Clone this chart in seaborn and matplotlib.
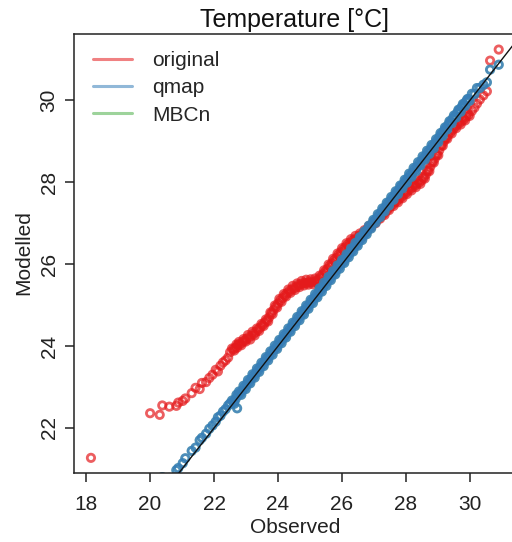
import matplotlib
matplotlib.use("Agg")
import matplotlib.pyplot as plt
import seaborn as sns
import pandas as pd
from matplotlib.lines import Line2D

# observed quantiles (x axis)
observed = [
    18.15, 20.00, 20.30, 20.38, 20.60, 20.82, 20.88, 21.02, 21.10, 21.30,
    21.42, 21.55, 21.62, 21.75, 21.85, 21.95, 22.05, 22.12, 22.20, 22.28,
    22.36, 22.44, 22.50,
    22.56, 22.63, 22.70, 22.72, 22.78, 22.85, 22.92, 22.99, 23.06, 23.13,
    23.20, 23.27, 23.34, 23.41, 23.48, 23.55, 23.62, 23.69, 23.76, 23.83,
    23.90, 23.97, 24.04, 24.11, 24.18, 24.25, 24.32, 24.39, 24.46, 24.53,
    24.60, 24.67, 24.74, 24.81, 24.88, 24.95, 25.02, 25.09, 25.16, 25.23,
    25.30, 25.37, 25.44, 25.51, 25.58, 25.65, 25.72, 25.79, 25.86, 25.93,
    26.00, 26.07, 26.14, 26.21, 26.28, 26.35, 26.42, 26.49, 26.56, 26.63,
    26.70, 26.77, 26.84, 26.91, 26.98, 27.05, 27.12, 27.19, 27.26, 27.33,
    27.40, 27.47, 27.54, 27.61, 27.68, 27.75, 27.82, 27.89, 27.96, 28.03,
    28.10, 28.17, 28.24, 28.31, 28.38, 28.45, 28.52, 28.59, 28.66, 28.73,
    28.80, 28.87, 28.94, 29.01, 29.08, 29.15, 29.22, 29.29, 29.36, 29.43,
    29.50, 29.57, 29.64, 29.71, 29.78, 29.85, 29.92, 29.99,
    30.06, 30.14, 30.22, 30.31, 30.42, 30.53, 30.63, 30.90,
]

# raw model quantiles
original_mod = [
    21.27, 22.36, 22.32, 22.55, 22.52, 22.54, 22.62, 22.66, 22.72, 22.85,
    22.98, 22.95, 23.10, 23.12, 23.22, 23.30, 23.42, 23.38, 23.52, 23.60,
    23.65, 23.72, 23.85,
    23.94, 23.89, 24.04, 23.96, 24.10, 24.02, 24.17, 24.11, 24.27, 24.16,
    24.35, 24.26, 24.43, 24.37, 24.54, 24.49, 24.65, 24.60, 24.82, 24.78,
    24.99, 24.94, 25.15, 25.08, 25.27, 25.21, 25.38, 25.30, 25.47, 25.37,
    25.53, 25.44, 25.59, 25.48, 25.62, 25.50, 25.63, 25.51, 25.65, 25.54,
    25.72, 25.66, 25.85, 25.79, 25.99, 25.93, 26.13, 26.06, 26.26, 26.20,
    26.39, 26.32, 26.51, 26.44, 26.61, 26.52, 26.69, 26.59, 26.75, 26.68,
    26.83, 26.79, 26.93, 26.90, 27.03, 27.00, 27.14, 27.11, 27.25, 27.20,
    27.37, 27.32, 27.49, 27.42, 27.58, 27.51, 27.68, 27.61, 27.78, 27.71,
    27.88, 27.80, 27.96, 27.88, 28.04, 27.96, 28.13, 28.09, 28.30, 28.27,
    28.50, 28.48, 28.69, 28.66, 28.90, 28.89, 29.09, 29.06, 29.25, 29.19,
    29.38, 29.32, 29.49, 29.41, 29.58, 29.51, 29.69, 29.62,
    29.74, 29.82, 29.92, 30.02, 30.12, 30.22, 30.97, 31.24,
]

# quantile mapped model quantiles
qmap_mod = [
    18.22, 20.10, 20.45, 20.80, 20.78, 20.97, 21.02, 21.14, 21.26, 21.44,
    21.52, 21.70, 21.76, 21.86, 21.98, 22.06, 22.15, 22.26, 22.30, 22.40,
    22.46, 22.55, 22.60,
    22.67, 22.59, 22.81, 22.48, 22.89, 22.81, 23.03, 22.95, 23.17, 23.09,
    23.31, 23.23, 23.45, 23.37, 23.59, 23.51, 23.73, 23.65, 23.87, 23.79,
    24.01, 23.93, 24.15, 24.07, 24.29, 24.21, 24.43, 24.35, 24.57, 24.49,
    24.71, 24.63, 24.85, 24.77, 24.99, 24.91, 25.13, 25.05, 25.27, 25.19,
    25.41, 25.33, 25.55, 25.47, 25.69, 25.61, 25.83, 25.75, 25.97, 25.89,
    26.10, 26.03, 26.24, 26.17, 26.38, 26.31, 26.52, 26.45, 26.66, 26.59,
    26.80, 26.73, 26.94, 26.87, 27.08, 27.01, 27.22, 27.15, 27.36, 27.29,
    27.50, 27.43, 27.64, 27.57, 27.78, 27.71, 27.92, 27.85, 28.06, 27.99,
    28.21, 28.13, 28.35, 28.27, 28.49, 28.41, 28.63, 28.55, 28.77, 28.69,
    28.91, 28.83, 29.05, 28.98, 29.20, 29.13, 29.34, 29.29, 29.49, 29.44,
    29.63, 29.58, 29.77, 29.72, 29.91, 29.86, 30.03, 29.99,
    30.16, 30.15, 30.30, 30.30, 30.38, 30.44, 30.75, 30.87,
]

# the dense middle holds many more quantiles than the lists above
observed_mid = [
    22.60, 22.67, 22.74, 22.81, 22.88, 22.95, 23.02, 23.09, 23.16, 23.23,
    23.30, 23.37, 23.44, 23.51, 23.58, 23.65, 23.72, 23.79, 23.86, 23.93,
    24.00, 24.07, 24.14, 24.21, 24.28, 24.35, 24.42, 24.49, 24.56, 24.63,
    24.70, 24.77, 24.84, 24.91, 24.98, 25.05, 25.12, 25.19, 25.26, 25.33,
    25.40, 25.47, 25.54, 25.61, 25.68, 25.75, 25.82, 25.89, 25.96, 26.03,
    26.10, 26.17, 26.24, 26.31, 26.38, 26.45, 26.52, 26.59, 26.66, 26.73,
    26.80, 26.87, 26.94, 27.01, 27.08, 27.15, 27.22, 27.29, 27.36, 27.43,
    27.50, 27.57, 27.64, 27.71, 27.78, 27.85, 27.92, 27.99, 28.06, 28.13,
    28.20, 28.27, 28.34, 28.41, 28.48, 28.55, 28.62, 28.69, 28.76, 28.83,
    28.90, 28.97, 29.04, 29.11, 29.18, 29.25, 29.32, 29.39, 29.46, 29.53,
    29.60, 29.67, 29.74, 29.81, 29.88, 29.95,
]
original_mid = [
    23.92, 23.96, 24.02, 24.05, 24.09, 24.13, 24.18, 24.21, 24.25, 24.30,
    24.34, 24.40, 24.45, 24.51, 24.57, 24.62, 24.70, 24.80, 24.88, 24.96,
    25.04, 25.11, 25.17, 25.23, 25.29, 25.33, 25.38, 25.41, 25.44, 25.48,
    25.51, 25.53, 25.54, 25.55, 25.56, 25.56, 25.57, 25.59, 25.62, 25.68,
    25.75, 25.81, 25.88, 25.95, 26.02, 26.09, 26.15, 26.22, 26.29, 26.35,
    26.41, 26.47, 26.52, 26.56, 26.60, 26.63, 26.67, 26.71, 26.75, 26.80,
    26.86, 26.91, 26.96, 27.01, 27.07, 27.12, 27.17, 27.22, 27.28, 27.34,
    27.40, 27.45, 27.50, 27.54, 27.59, 27.64, 27.69, 27.74, 27.79, 27.84,
    27.88, 27.92, 27.96, 28.00, 28.04, 28.11, 28.19, 28.28, 28.38, 28.49,
    28.58, 28.67, 28.78, 28.89, 28.99, 29.07, 29.15, 29.22, 29.28, 29.35,
    29.40, 29.45, 29.49, 29.54, 29.60, 29.65,
]
qmap_mid = [
    22.64, 22.70, 22.79, 22.85, 22.91, 22.99, 23.06, 23.12, 23.20, 23.27,
    23.33, 23.41, 23.48, 23.54, 23.62, 23.69, 23.75, 23.83, 23.90, 23.96,
    24.04, 24.11, 24.17, 24.25, 24.32, 24.38, 24.46, 24.53, 24.59, 24.67,
    24.74, 24.80, 24.88, 24.95, 25.01, 25.09, 25.16, 25.22, 25.30, 25.37,
    25.43, 25.51, 25.58, 25.64, 25.72, 25.79, 25.85, 25.93, 26.00, 26.06,
    26.13, 26.21, 26.27, 26.34, 26.42, 26.48, 26.55, 26.63, 26.69, 26.76,
    26.84, 26.90, 26.97, 27.05, 27.11, 27.18, 27.26, 27.32, 27.39, 27.47,
    27.53, 27.60, 27.68, 27.74, 27.81, 27.89, 27.95, 28.02, 28.10, 28.16,
    28.23, 28.31, 28.37, 28.44, 28.52, 28.58, 28.65, 28.73, 28.79, 28.87,
    28.94, 29.01, 29.10, 29.17, 29.25, 29.32, 29.40, 29.47, 29.55, 29.61,
    29.69, 29.76, 29.83, 29.90, 29.97, 30.03,
]

labels = ["original", "qmap", "MBCn"]
colors = ["#E41A1C", "#377EB8", "#4DAF4A"]
alphas = {"original": 0.7, "MBCn": 0.3, "qmap": 0.85}

df = pd.DataFrame({
    "obs": observed + observed_mid,
    "original": original_mod + original_mid,
    "qmap": qmap_mod + qmap_mid,
})
# MBCn ends up right underneath qmap in the figure
df["MBCn"] = df["qmap"]

sns.set_style("ticks")
plt.rcParams["font.family"] = ["Liberation Sans", "DejaVu Sans"]

fig = plt.figure(figsize=(5.12, 5.42), dpi=100)
ax = fig.add_axes([74 / 512, 1 - 473 / 542, 442 / 512, 439 / 542])

# draw order: original, MBCn, qmap (qmap hides MBCn)
for name in ["original", "MBCn", "qmap"]:
    col = colors[labels.index(name)]
    sns.scatterplot(data=df, x="obs", y=name, ax=ax, marker="o", s=28,
                    facecolor="none", edgecolor=col, linewidth=2.0,
                    alpha=alphas[name], legend=False, zorder=2)

ax.axline((20, 20), slope=1, color="#111111", lw=1.0, zorder=3)

ax.set_xlim(17.62, 31.44)
ax.set_ylim(20.9, 31.62)
ax.set_xticks([18, 20, 22, 24, 26, 28, 30])
ax.set_yticks([22, 24, 26, 28, 30])

for side in ["left", "bottom", "top", "right"]:
    ax.spines[side].set_visible(True)
    ax.spines[side].set_color("#222222")
    ax.spines[side].set_linewidth(1.1)

ax.tick_params(axis="both", length=6.5, width=1.1, color="#222222",
               labelsize=15, labelcolor="#222222")
ax.tick_params(axis="x", pad=9)
ax.tick_params(axis="y", pad=4.5)
for lbl in ax.get_yticklabels():
    lbl.set_rotation(90)
    lbl.set_va("center")

ax.set_xlabel("")
ax.set_ylabel("")
ax.set_title("Temperature [°C]", fontsize=18, pad=5, color="#111111")
fig.text(295 / 512, 1 - 533 / 542, "Observed", ha="center", va="baseline",
         fontsize=15, color="#222222")
fig.text(24 / 512, 1 - 253 / 542, "Modelled", ha="center", va="center",
         rotation=90, fontsize=15, color="#222222")

handles = [Line2D([], [], color=c, lw=2.2, alpha=0.55) for c in colors]
ax.legend(handles, labels, loc="upper left", bbox_to_anchor=(0.043, 0.961),
          frameon=False, fontsize=15, borderpad=0, borderaxespad=0,
          handlelength=1.87, handletextpad=0.95, labelspacing=0.4)

fig.savefig("out.png", dpi=100)
